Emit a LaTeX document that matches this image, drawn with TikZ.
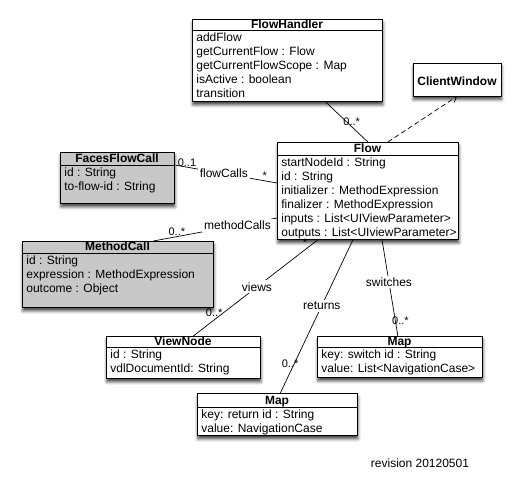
\documentclass[tikz,border=0pt]{standalone}
\usepackage{fontspec}
\setmainfont{Liberation Sans}
\usetikzlibrary{arrows.meta,shadows.blur}
\definecolor{callgray}{RGB}{200,200,200}
\begin{document}
\begin{tikzpicture}[x=1pt,y=-1pt,line width=0.7pt,>={Straight Barb[length=5pt,width=7pt]},
  classbox/.style={draw,fill=white,inner sep=0pt,anchor=north west,
    blur shadow={shadow xshift=0.5pt,shadow yshift=-3.5pt,shadow blur radius=3pt,shadow opacity=75}},
  callbox/.style={classbox,fill=callgray},
  classname/.style={anchor=base,inner sep=0pt,font=\fontsize{12}{14}\selectfont\bfseries},
  members/.style={anchor=north west,align=left,inner xsep=4pt,inner ysep=2.5pt,font=\fontsize{12}{14}\selectfont},
  role/.style={fill=white,inner sep=2pt,font=\fontsize{12}{14}\selectfont},
  mult/.style={inner sep=0.5pt,font=\fontsize{11}{13}\selectfont}]
\useasboundingbox (0,0) rectangle (524,479);
% Vẽ các lớp
\node[classbox,minimum width=190pt,minimum height=82pt] (handler) at (192,19) {};
\node[classname] (handlername) at (287,28) {FlowHandler};
\draw (192,30) -- (382,30);
\node[members] (handlerattrs) at (192,30) {addFlow\\getCurrentFlow : Flow\\getCurrentFlowScope : Map\\isActive : boolean\\transition};

\node[classbox,minimum width=88pt,minimum height=33pt,anchor=center] (client) at (457,79.5) {};
\node[classname] (clientname) at (457,85) {ClientWindow};

\node[classbox,minimum width=181pt,minimum height=97pt] (flow) at (277,142) {};
\node[classname] (flowname) at (367.5,152.7) {Flow};
\draw (277,155) -- (458,155);
\node[members] (flowattrs) at (277,155) {startNodeId : String\\id : String\\initializer : MethodExpression\\finalizer : MethodExpression\\inputs : List<UIViewParameter>\\outputs : List<UIviewParameter>};

\node[callbox,minimum width=114pt,minimum height=51pt] (faces) at (60,152) {};
\node[classname] (facesname) at (117,162.7) {FacesFlowCall};
\draw (60,165) -- (174,165);
\node[members] (facesattrs) at (60,165) {id : String\\to-flow-id : String};

\node[callbox,minimum width=191pt,minimum height=66pt] (method) at (22,241) {};
\node[classname] (methodname) at (117.5,250.7) {MethodCall};
\draw (22,253) -- (213,253);
\node[members] (methodattrs) at (22,253) {id : String\\expression : MethodExpression\\outcome : Object};

\node[classbox,minimum width=154pt,minimum height=42pt] (viewnode) at (106,336) {};
\node[classname] (viewnodename) at (183,345) {ViewNode};
\draw (106,347) -- (260,347);
\node[members] (viewnodeattrs) at (106,347) {id : String\\vdlDocumentId: String};

\node[classbox,minimum width=165pt,minimum height=41pt] (switchmap) at (317,336) {};
\node[classname] (switchmapname) at (399.5,345) {Map};
\draw (317,347) -- (482,347);
\node[members] (switchmapattrs) at (317,347) {key: switch id : String\\value: List<NavigationCase>};

\node[classbox,minimum width=160pt,minimum height=42pt] (returnmap) at (197,393) {};
\node[classname] (returnmapname) at (277,404.7) {Map};
\draw (197,407) -- (357,407);
\node[members] (returnmapattrs) at (197,407) {key: return id : String\\value: NavigationCase};

% Vẽ các đường nối
\draw ([xshift=38pt]handler.south) -- node[mult,pos=0.5,anchor=west,xshift=-4pt] (handlermult) {0..*} (flow.north);
\draw[->,dash pattern=on 5pt off 3pt] ([xshift=20pt]flow.north) -- (client.south);
\draw ([yshift=-13pt]faces.north east) -- node[role,pos=0.48] (flowcalls) {flowCalls}
  node[mult,pos=0.12,above] (facesmult) {0..1} node[mult,pos=0.88,above] (flowcallsmult) {*}
  ([yshift=-41pt]flow.north west);
\draw ([xshift=35.5pt]method.north) -- node[mult,pos=0.19,above] (methodmult) {0..*}
  node[role,pos=0.68] (methodcalls) {methodCalls} ([yshift=-76pt]flow.north west);
\draw ([xshift=41pt]flow.south west) -- node[mult,pos=0.08,above left] (viewsmult) {*}
  node[role,pos=0.49] (views) {views} node[mult,pos=0.76,anchor=east] (viewnodemult) {0..*}
  ([xshift=10pt]viewnode.north);
\draw ([xshift=76pt]flow.south west) -- node[role,pos=0.43] (returns) {returns}
  node[mult,pos=0.81,anchor=east,xshift=5pt] (returnmult) {0..*} ([xshift=3pt]returnmap.north);
\draw ([xshift=105pt]flow.south west) -- node[role,pos=0.44] (switches) {switches}
  node[mult,pos=0.84,anchor=west,xshift=-4pt] (switchmult) {0..*} ([xshift=-2pt]switchmap.north);

\node[font=\fontsize{12}{14}\selectfont] (revision) at (420,463) {revision 20120501};
\end{tikzpicture}
\end{document}
